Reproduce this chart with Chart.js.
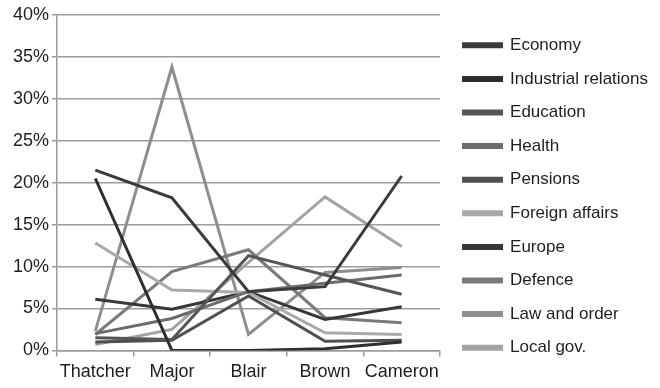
<!DOCTYPE html>
<html>
<head>
<meta charset="utf-8">
<script src="https://cdn.jsdelivr.net/npm/chart.js@4.4.0/dist/chart.umd.min.js"></script>
<style>
  body { margin: 0; background: #fff; }
  #wrap { width: 660px; height: 388px; }
</style>
</head>
<body>
<div id="wrap"><canvas id="issuesChart" width="660" height="388"></canvas></div>
<script>
// Share of speech topics by prime minister (%)
const pms = ['Thatcher', 'Major', 'Blair', 'Brown', 'Cameron'];
const yTicks = [0, 5, 10, 15, 20, 25, 30, 35, 40];

const economy = [21.5, 18.2, 7.0, 7.6, 20.8];
const industrialRelations = [20.5, 0.0, 0.0, 0.2, 1.0];
const education = [1.5, 1.3, 11.3, 9.0, 6.7];
const health = [2.0, 3.8, 7.0, 8.0, 9.0];
const pensions = [1.0, 1.2, 6.5, 1.1, 1.2];
const foreignAffairs = [12.8, 7.2, 6.9, 2.1, 1.9];
const europe = [6.1, 4.9, 7.0, 3.7, 5.2];
const defence = [1.9, 9.4, 12.0, 3.9, 3.3];
const lawAndOrder = [2.3, 33.8, 1.9, 9.3, 9.9];
const localGov = [0.7, 2.5, 10.5, 18.3, 12.4];

const seriesNames = ['Economy', 'Industrial relations', 'Education', 'Health', 'Pensions',
  'Foreign affairs', 'Europe', 'Defence', 'Law and order', 'Local gov.'];
const seriesData = [economy, industrialRelations, education, health, pensions,
  foreignAffairs, europe, defence, lawAndOrder, localGov];
const seriesColors = ['#3b3b3b', '#2e2e2e', '#555555', '#6c6c6c', '#4f4f4f',
  '#a9a9a9', '#383838', '#7a7a7a', '#8e8e8e', '#a3a3a3'];

const gridGray = '#9c9c9c';
const textColor = '#1e1e1e';
const font = 'Liberation Sans, Arial, Helvetica, sans-serif';

const datasets = seriesNames.map(function (name, i) {
  return {
    label: name,
    data: seriesData[i],
    borderColor: seriesColors[i],
    backgroundColor: seriesColors[i],
    borderWidth: 3,
    pointRadius: 0,
    tension: 0,
    fill: false
  };
});

// tweak the legend box width and nudge it so the gap to the plot stays fixed
const legendGap = {
  id: 'legendGap',
  beforeLayout: function (chart) {
    const lg = chart.legend;
    if (lg && !lg._gapSet) {
      const fit = lg.fit;
      lg.fit = function () {
        fit.call(this);
        this.width -= 1;
      };
      lg._gapSet = true;
    }
  },
  afterLayout: function (chart) {
    const lg = chart.legend;
    if (!lg) return;
    lg.left += 7;
    lg.top -= 5;
    lg.bottom -= 5;
  }
};

new Chart(document.getElementById('issuesChart').getContext('2d'), {
  type: 'line',
  data: { labels: pms, datasets: datasets },
  plugins: [legendGap],
  options: {
    responsive: false,
    animation: false,
    layout: { padding: { top: 15, left: 10, right: 10, bottom: 0 } },
    plugins: {
      tooltip: { enabled: false },
      legend: {
        position: 'right',
        maxWidth: 260,
        labels: {
          color: textColor,
          font: { family: font, size: 17 },
          boxWidth: 38,
          boxHeight: 3,
          padding: 16.6
        }
      }
    },
    scales: {
      x: {
        offset: true,
        grid: {
          offset: true,
          drawOnChartArea: false,
          color: gridGray,
          lineWidth: 1.5,
          tickLength: 6
        },
        border: { color: gridGray, width: 1.5 },
        ticks: {
          color: textColor,
          font: { family: font, size: 18 },
          padding: 5,
          autoSkip: false,
          maxRotation: 0
        }
      },
      y: {
        min: 0,
        max: 40,
        afterBuildTicks: function (axis) {
          axis.ticks = yTicks.map(function (v) { return { value: v }; });
        },
        grid: {
          color: gridGray,
          lineWidth: 1.5,
          tickLength: 5
        },
        border: { color: gridGray, width: 1.5 },
        ticks: {
          color: textColor,
          font: { family: font, size: 18 },
          padding: 3,
          callback: function (v) { return v + '%'; }
        }
      }
    }
  }
});
</script>
</body>
</html>
